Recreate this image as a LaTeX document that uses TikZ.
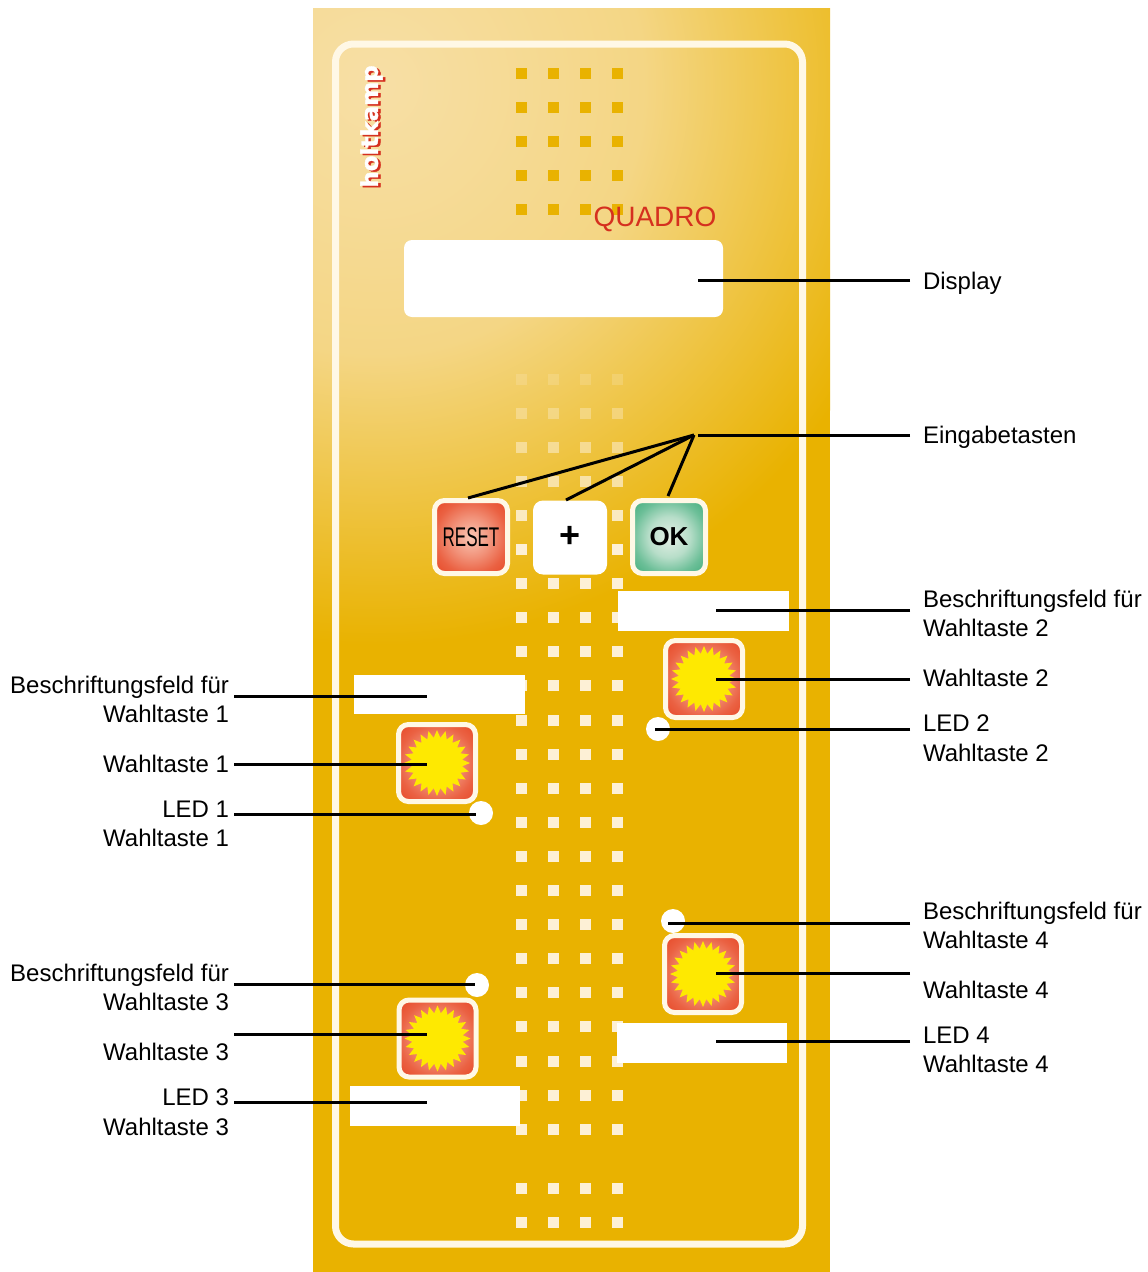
\documentclass[tikz,border=0pt]{standalone}
\usepackage{fontspec}
\setmainfont{Liberation Sans}
\newfontfamily\logofont[BoldFeatures={FakeBold=1.5}]{DejaVu Sans}
\usepackage{xcolor}
\usepackage{tikz}
\usetikzlibrary{shapes,shapes.geometric,positioning,calc}

\definecolor{panelgold}{HTML}{E9B200}
\definecolor{panellight}{HTML}{F7DFA6}
\definecolor{framecream}{HTML}{FFF8E6}
\definecolor{dotcream}{HTML}{FDF0D6}
\definecolor{keyedge}{HTML}{E8502F}
\definecolor{keymid}{HTML}{F9C6B4}
\definecolor{okedge}{HTML}{4FB385}
\definecolor{okmid}{HTML}{E4F0E6}
\definecolor{logored}{HTML}{D5301F}

\pgfdeclareradialshading{panelglow}{\pgfpoint{0bp}{0bp}}{color(0bp)=(panellight); color(12bp)=(panellight!80!panelgold); color(25bp)=(panelgold); color(50bp)=(panelgold)}
\pgfdeclareradialshading{redkey}{\pgfpoint{0bp}{0bp}}{color(0bp)=(keymid); color(14bp)=(keyedge!45!keymid); color(25bp)=(keyedge!85!keymid); color(32bp)=(keyedge); color(50bp)=(keyedge)}
\pgfdeclareradialshading{greenkey}{\pgfpoint{0bp}{0bp}}{color(0bp)=(okmid); color(14bp)=(okedge!30!okmid); color(25bp)=(okedge!80!okmid); color(32bp)=(okedge); color(50bp)=(okedge)}

\begin{document}
\begin{tikzpicture}[
  x=1pt, y=-1pt,
  txt/.style={inner sep=0pt, outer sep=0pt, font=\fontsize{24}{29.5}\selectfont, text=black},
  lbl/.style={txt, anchor=west, align=left},
  rbl/.style={txt, anchor=east, align=right},
  leader/.style={draw, line width=3pt, black},
  field/.style={rectangle, fill=white, inner sep=0pt, outer sep=0pt},
  topdot/.style={rectangle, fill=panelgold, minimum size=11pt, inner sep=0pt},
  lowdot/.style={rectangle, fill=dotcream, minimum size=11pt, inner sep=0pt},
  key/.style={rectangle, draw=framecream, line width=5pt, rounded corners=10pt, minimum size=73pt, inner sep=0pt},
  wahl/.style={key, shading=redkey, minimum size=77pt},
  burst/.style={star, star points=24, star point ratio=1.3, fill=yellow!92!orange, draw=none, minimum size=66pt, inner sep=0pt},
  led/.style={circle, fill=white, minimum size=24pt, inner sep=0pt}
]

\useasboundingbox (0,0) rectangle (1148,1272);

% panel
\fill[panelgold] (313,8) rectangle (830,1272);
\begin{scope}
\clip (313,8) rectangle (830,1272);
\shade[shading=panelglow] (375,85) circle (560);
\end{scope}
\draw[framecream, line width=7pt, rounded corners=18pt] (335.5,44) rectangle (802.5,1244);

% dots
\foreach \x [count=\c] in {521,553,585,617} {
  \foreach \y [count=\r] in {73,107,141,175,209} {
    \node[topdot] (top\c-\r) at (\x,\y) {};
  }
  \foreach \k in {0,...,22} {
    \pgfmathsetmacro{\dotop}{min(1,0.2+\k*0.17)}
    \pgfmathsetmacro{\doty}{379+\k*34.1}
    \node[lowdot, opacity=\dotop] (low\c-\k) at (\x,\doty) {};
  }
  \foreach \y [count=\r] in {1188,1222} {
    \node[lowdot] (end\c-\r) at (\x,\y) {};
  }
}

% logo
\node[inner sep=0pt, rotate=90, text=logored, font=\logofont\bfseries\fontsize{23}{23}\selectfont] (logoshade) at (374,128) {holtkamp};
\node[inner sep=0pt, rotate=90, text=white, font=\logofont\bfseries\fontsize{23}{23}\selectfont] (logo) at (371.5,126.5) {holtkamp};
\node[inner sep=0pt, text=logored, font=\fontsize{28}{28}\selectfont] (quadro) at (655,219) {QUADRO};

% display and fields
\node[field, rounded corners=8pt, minimum width=319pt, minimum height=77pt] (display) at (563.5,278.5) {};
\node[field, minimum width=171pt, minimum height=40pt] (field2) at (703.5,611) {};
\node[field, minimum width=171pt, minimum height=39pt] (field1) at (439.5,694.5) {};
\node[field, minimum width=170pt, minimum height=40pt] (field4) at (702,1043) {};
\node[field, minimum width=170pt, minimum height=40pt] (field3) at (435,1106) {};

% input keys
\node[key, shading=redkey] (reset) at (471,537) {\fontsize{27}{27}\selectfont\scalebox{.63}[1]{RESET}};
\node[key, fill=white, draw=none, minimum size=74pt] (plus) at (570,537.5) {\fontsize{36}{36}\selectfont\bfseries\raisebox{1pt}{+}};
\node[key, shading=greenkey] (ok) at (669,537) {\fontsize{26}{26}\selectfont\bfseries OK};

% selection keys
\node[wahl] (key1) at (437,763) {};
\node[burst] (sun1) at (key1.center) {};
\node[wahl] (key2) at (704,679) {};
\node[burst] (sun2) at (key2.center) {};
\node[wahl] (key3) at (437.5,1038.5) {};
\node[burst] (sun3) at (key3.center) {};
\node[wahl] (key4) at (703,974) {};
\node[burst] (sun4) at (key4.center) {};

% leds
\node[led] (led1) at (481,813) {};
\node[led] (led2) at (658,729) {};
\node[led] (led3) at (477,985) {};
\node[led] (led4) at (673,921) {};

% labels
\node[lbl] (tdisplay) at (923,283) {Display};
\node[lbl] (teingabe) at (923,437) {Eingabetasten};
\node[lbl] (tfield2) at (923,613.5) {Beschriftungsfeld für\\Wahltaste 2};
\node[lbl] (tkey2) at (923,677.5) {Wahltaste 2};
\node[lbl] (tled2) at (923,738) {LED 2\\Wahltaste 2};
\node[lbl] (tfield4) at (923,925.5) {Beschriftungsfeld für\\Wahltaste 4};
\node[lbl] (tkey4) at (923,989.5) {Wahltaste 4};
\node[lbl] (tled4) at (923,1050) {LED 4\\Wahltaste 4};
\node[rbl] (tfield1) at (229,699.5) {Beschriftungsfeld für\\Wahltaste 1};
\node[rbl] (tkey1) at (229,763.5) {Wahltaste 1};
\node[rbl] (tled1) at (229,824) {LED 1\\Wahltaste 1};
\node[rbl] (tfield3) at (229,987.5) {Beschriftungsfeld für\\Wahltaste 3};
\node[rbl] (tkey3) at (229,1051.5) {Wahltaste 3};
\node[rbl] (tled3) at (229,1112) {LED 3\\Wahltaste 3};

% leaders
\foreach \n/\xa/\xb/\y in {display/910/698/280, field2/910/716/610, key2/910/716/679, led2/910/655/729,
    led4/910/668/923, key4/910/716/973, field4/910/716/1041,
    field1/234/427/696, key1/234/427/764, led1/234/476/814,
    led3/234/475/984, key3/234/427/1034, field3/234/427/1102} {
  \coordinate (\n from) at (\xa,\y);
  \coordinate (\n to) at (\xb,\y);
  \draw[leader] (\n from) -- (\n to);
}

\coordinate (hub) at (694,435);
\coordinate (hubfrom) at (910,435);
\coordinate (hubto) at (698,435);
\coordinate (resettip) at (468,498);
\coordinate (plustip) at (566,500);
\coordinate (oktip) at (668,496);
\draw[leader] (hubfrom) -- (hubto);
\draw[leader] (hub) -- (resettip);
\draw[leader] (hub) -- (plustip);
\draw[leader] (hub) -- (oktip);

\end{tikzpicture}
\end{document}
